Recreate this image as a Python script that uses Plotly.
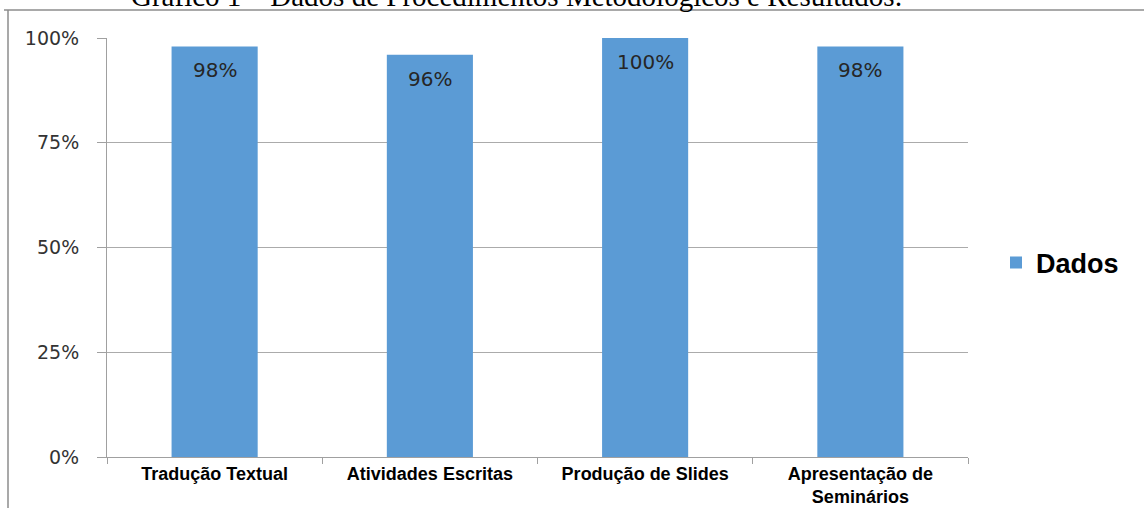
import plotly.graph_objects as go

categories = ["Tradução Textual", "Atividades Escritas", "Produção de Slides", "Apresentação de<br>Seminários"]
values = [0.98, 0.96, 1.00, 0.98]
value_labels = ["98%", "96%", "100%", "98%"]
series_name = "Dados"
title_text = "Gráfico 1 – Dados de Procedimentos Metodológicos e Resultados:"
y_ticks = [0, 0.25, 0.5, 0.75, 1.0]
y_tick_labels = ["0%", "25%", "50%", "75%", "100%"]

W, H = 1144, 508
L, R, T, B = 107, 176, 38, 51
pw, ph = W - L - R, H - T - B

def px_x(p):
    return (p - L) / pw

def px_y(p):
    return (H - B - p) / ph

fig = go.Figure()
fig.add_trace(go.Bar(
    x=categories, y=values, name=series_name,
    marker=dict(color="#5B9BD5", line=dict(width=0)),
    showlegend=True,
))

annotations = []
for c, v, t in zip(categories, values, value_labels):
    annotations.append(dict(
        x=c, y=v, xref="x", yref="y", text=t, showarrow=False,
        yanchor="middle", yshift=-24,
        font=dict(family="DejaVu Sans", size=20, color="#262626"),
    ))
annotations.append(dict(
    x=px_x(517), y=px_y(-4), xref="paper", yref="paper", text=title_text,
    showarrow=False, xanchor="center", yanchor="middle",
    font=dict(family="Liberation Serif", size=29, color="#000000"),
))

shapes = [
    dict(type="line", xref="paper", yref="paper", x0=px_x(4), x1=px_x(1150),
         y0=px_y(10), y1=px_y(10), line=dict(color="#8C8C8C", width=1.5)),
    dict(type="line", xref="paper", yref="paper", x0=px_x(8), x1=px_x(8),
         y0=px_y(10), y1=px_y(515), line=dict(color="#8C8C8C", width=1.5)),
]

fig.update_layout(
    width=W, height=H,
    margin=dict(l=L, r=R, t=T, b=B, pad=0, autoexpand=False),
    paper_bgcolor="white", plot_bgcolor="white",
    bargap=0.6,
    annotations=annotations,
    shapes=shapes,
    legend=dict(
        x=px_x(996), y=px_y(263), xanchor="left", yanchor="middle",
        font=dict(family="Liberation Sans", size=27, color="#000000", weight="bold"),
        bgcolor="rgba(0,0,0,0)",
    ),
    xaxis=dict(
        automargin=False,
        showline=True, linecolor="#A0A0A0", linewidth=1,
        ticks="outside", ticklen=6, tickcolor="#A0A0A0", tickson="boundaries",
        showgrid=False, ticklabelstandoff=0,
        tickfont=dict(family="Liberation Sans", size=18, color="#000000", weight="bold"),
    ),
    yaxis=dict(
        automargin=False,
        range=[0, 1], tickvals=y_ticks, ticktext=y_tick_labels,
        showline=True, linecolor="#A0A0A0", linewidth=1,
        ticks="outside", ticklen=9, tickcolor="#A0A0A0",
        showgrid=True, gridcolor="#ABABAB", gridwidth=1,
        zeroline=False, ticklabelstandoff=14,
        tickfont=dict(family="DejaVu Sans", size=19, color="#333333"),
    ),
)

fig.write_html("out.html", config={"displayModeBar": False},
               post_script="document.body.style.margin='0';")
